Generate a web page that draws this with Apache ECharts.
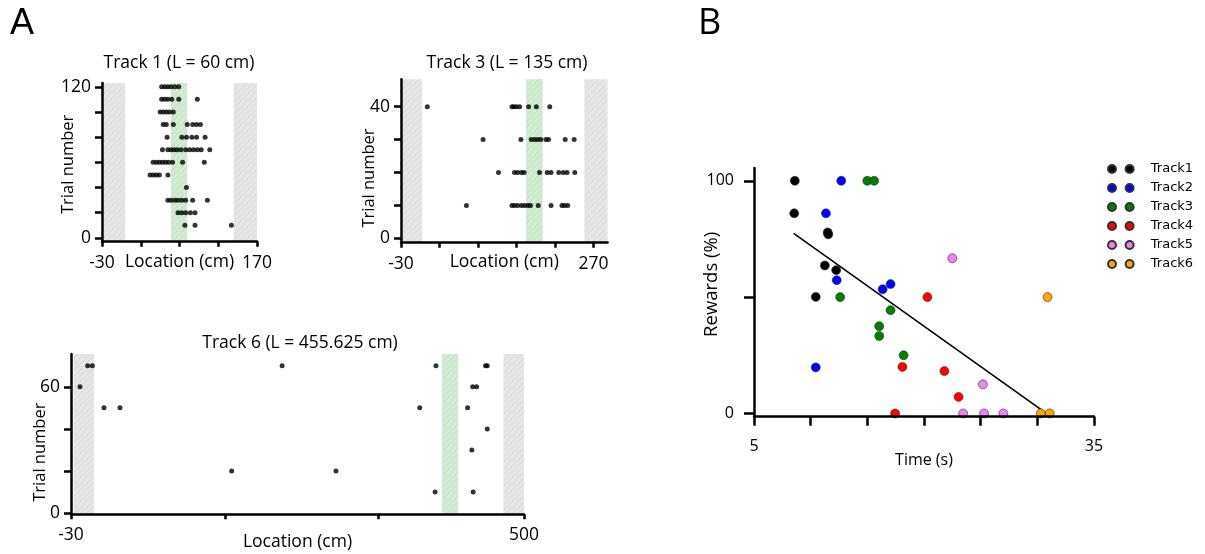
<!DOCTYPE html>
<html>
<head>
<meta charset="utf-8">
<script src="https://cdn.jsdelivr.net/npm/echarts@6/dist/echarts.min.js"></script>
<style>
  html, body { margin: 0; padding: 0; background: #fff; }
  #chart { width: 1205px; height: 554px; }
</style>
</head>
<body>
<div id="chart"></div>
<script>
// ---- panel A data: lick/stop locations per trial ----
const track1Trials = [120, 110, 100, 90, 80, 70, 60, 50, 40, 30, 20, 10];
const track1Locs = [
  [47, 51, 55, 59, 64, 69],
  [47, 51, 55, 60, 69, 93],
  [45, 49, 53, 57, 62],
  [49, 53, 62, 80, 87, 92, 97],
  [54, 73, 79, 86, 92, 103],
  [48, 55, 59, 63, 67, 72, 78, 83, 88, 93, 98, 109],
  [36, 40, 44, 48, 52, 56, 61, 74, 102],
  [32, 36, 40, 44, 55],
  [79],
  [55, 59, 64, 68, 73, 78, 87, 106],
  [68, 73, 78, 84, 90],
  [77, 90, 137]
];

const track3Trials = [40, 30, 20, 10];
const track3Locs = [
  [11, 143, 146, 150, 155, 169, 181, 202],
  [98, 157, 173, 178, 183, 188, 196, 200, 226, 240],
  [122, 147, 152, 158, 162, 186, 198, 204, 216, 223, 229, 241],
  [72, 143, 147, 152, 158, 163, 168, 172, 184, 204, 221, 225, 230]
];

const track6Locs = [-19.5, -10.5, -5, 8.6, 27.3, 158, 217, 280, 397, 378, 396, 455, 457, 440, 444.5, 434, 457, 439, 440.5];
const track6Trials = [60, 70, 70, 50, 50, 20, 70, 20, 70, 50, 10, 70, 70, 60, 60, 50, 40, 30, 10];

// zones [from, to] in cm
const track1Grey = [[-28, 0], [140, 170]];
const track1Reward = [59, 80];
const track3Grey = [[-27, 3], [256, 292]];
const track3Reward = [165, 191];
const track6Grey = [[-27, -3], [476, 500]];
const track6Reward = [404, 423];

// ---- panel B data: time vs rewards ----
const trackNames = ['Track1', 'Track2', 'Track3', 'Track4', 'Track5', 'Track6'];
const trackColors = ['#000000', '#0000ff', '#008000', '#ff0000', '#ee82ee', '#ffa500'];
const t1Time = [8.6, 8.55, 11.5, 11.55, 11.25, 12.25, 10.45];
const t1Reward = [100, 86, 77.8, 77, 63.6, 61.6, 50.1];
const t2Time = [12.7, 11.35, 12.3, 16.35, 17.05, 10.45];
const t2Reward = [100, 86, 57.3, 53.4, 55.6, 19.8];
const t3Time = [15.0, 15.6, 12.6, 17.05, 16.05, 16.05, 18.2];
const t3Reward = [100, 100, 50, 44.4, 37.5, 33.3, 25];
const t4Time = [20.3, 18.1, 21.8, 23.05, 17.45];
const t4Reward = [50, 20, 18.2, 7.1, 0];
const t5Time = [22.5, 25.2, 23.45, 25.3, 27.0];
const t5Reward = [66.7, 12.5, 0, 0, 0];
const t6Time = [30.9, 30.3, 31.1];
const t6Reward = [50, 0, 0];
const fitTime = [8.5, 30.8];
const fitReward = [77.4, 0];

const FONT = '"Open Sans", "DejaVu Sans", sans-serif';
const FS = 17.5;

function hatch(bg, line) {
  const c = document.createElement('canvas');
  c.width = 6; c.height = 6;
  const g = c.getContext('2d');
  g.fillStyle = bg; g.fillRect(0, 0, 6, 6);
  g.strokeStyle = line; g.lineWidth = 0.8;
  g.beginPath();
  g.moveTo(0, 6); g.lineTo(6, 0);
  g.moveTo(-1, 1); g.lineTo(1, -1);
  g.moveTo(5, 7); g.lineTo(7, 5);
  g.stroke();
  return { image: c, repeat: 'repeat' };
}
const greyFill = hatch('#e6e6e6', '#d2d2d2');
const greenFill = hatch('#d2ebd2', '#b8dcb8');

function rowsToPoints(trials, locs) {
  const pts = [];
  trials.forEach((t, i) => locs[i].forEach(x => pts.push([x, t])));
  return pts;
}

function zoneAreas(grey, reward) {
  const areas = grey.map(z => [{ xAxis: z[0], itemStyle: { color: greyFill } }, { xAxis: z[1] }]);
  areas.push([{ xAxis: reward[0], itemStyle: { color: greenFill } }, { xAxis: reward[1] }]);
  return areas;
}

function xAx(idx, min, max, ticks, labels, nameGap) {
  return {
    type: 'value', gridIndex: idx, min: min, max: max, z: 5,
    name: 'Location (cm)', nameLocation: 'middle', nameGap: nameGap, nameMoveOverlap: false,
    nameTextStyle: { fontSize: FS, fontFamily: FONT, color: '#000' },
    axisLine: { onZero: false, lineStyle: { color: '#000', width: 2.5 } },
    axisTick: { customValues: ticks, length: 5, lineStyle: { color: '#000', width: 2.5 } },
    axisLabel: { customValues: labels, margin: 12, fontSize: FS, fontFamily: FONT, color: '#000' },
    splitLine: { show: false }
  };
}
// shift > 0 moves the rotated name down the axis
function yAx(idx, min, max, ticks, labels, nameGap, shift) {
  return {
    type: 'value', gridIndex: idx, min: min, max: max, z: 5,
    name: 'Trial number', nameLocation: 'middle', nameGap: nameGap, nameMoveOverlap: false,
    nameTextStyle: { fontSize: 16.5, fontFamily: FONT, color: '#000', padding: [0, shift * 2, 0, 0] },
    axisLine: { onZero: false, lineStyle: { color: '#000', width: 2.5 } },
    axisTick: { customValues: ticks, length: 7, lineStyle: { color: '#000', width: 2.5 } },
    axisLabel: { customValues: labels, margin: 11, fontSize: FS, fontFamily: FONT, color: '#000' },
    splitLine: { show: false }
  };
}

function dots(idx, pts, grey, reward) {
  return {
    type: 'scatter', xAxisIndex: idx, yAxisIndex: idx,
    data: pts, symbolSize: 5, itemStyle: { color: '#000' },
    silent: true,
    markArea: { silent: true, data: zoneAreas(grey, reward) }
  };
}

const bTimes = [t1Time, t2Time, t3Time, t4Time, t5Time, t6Time];
const bRewards = [t1Reward, t2Reward, t3Reward, t4Reward, t5Reward, t6Reward];

const chart = echarts.init(document.getElementById('chart'));
const option = {
  animation: false,
  graphic: [
    { type: 'text', left: 10, top: 6, style: { text: 'A', font: '36px "Liberation Sans", Arial, sans-serif', fill: '#000' } },
    { type: 'text', left: 698, top: 6, style: { text: 'B', font: '36px "Open Sans", sans-serif', fill: '#000' } },
    { type: 'text', x: 179, y: 63, style: { text: 'Track 1 (L = 60 cm)', font: FS + 'px ' + FONT, fill: '#000', align: 'center', verticalAlign: 'middle' } },
    { type: 'text', x: 507, y: 63, style: { text: 'Track 3 (L = 135 cm)', font: FS + 'px ' + FONT, fill: '#000', align: 'center', verticalAlign: 'middle' } },
    { type: 'text', x: 300, y: 343, style: { text: 'Track 6 (L = 455.625 cm)', font: FS + 'px ' + FONT, fill: '#000', align: 'center', verticalAlign: 'middle' } }
  ],
  legend: {
    data: trackNames, orient: 'vertical', left: 1102, top: 157,
    icon: 'path://M0,4A4,4,0,1,1,8,4A4,4,0,1,1,0,4ZM17.6,4A4,4,0,1,1,25.6,4A4,4,0,1,1,17.6,4Z',
    itemWidth: 26, itemHeight: 8, itemGap: 5,
    textStyle: { fontSize: 13, lineHeight: 14, fontFamily: '"DejaVu Sans", sans-serif', color: '#000', padding: [0, 0, 0, 12] }
  },
  grid: [
    { left: 102, top: 83, width: 155, height: 158.7 },
    { left: 401, top: 79.3, width: 206.5, height: 163.4 },
    { left: 71, top: 354, width: 453, height: 160.3 },
    { left: 754, top: 168, width: 340, height: 248.7 }
  ],
  xAxis: [
    xAx(0, -30, 170, [-30, 20, 70, 120, 170], [-30, 170], 11),
    xAx(1, -30, 292, [-30, 30, 90, 150, 210, 270], [-30, 270], 10),
    xAx(2, -30, 500, [-30, 150, 330, 500], [-30, 500], 19),
    {
      type: 'value', gridIndex: 3, min: 5, max: 35, z: 5,
      name: 'Time (s)', nameLocation: 'middle', nameGap: 36, nameMoveOverlap: false,
      nameTextStyle: { fontSize: 16, fontFamily: FONT, color: '#000' },
      axisLine: { onZero: false, lineStyle: { color: '#000', width: 2.5 } },
      axisTick: { customValues: [5, 10, 15, 20, 25, 30, 35], length: 9, lineStyle: { color: '#000', width: 2.5 } },
      axisLabel: { customValues: [5, 35], margin: 22, fontSize: 16, fontFamily: FONT, color: '#000' },
      splitLine: { show: false }
    }
  ],
  yAxis: [
    yAx(0, -3, 123, [0, 20, 40, 60, 80, 100, 120], [0, 120], 25, 2),
    yAx(1, -1.3, 48.3, [0, 10, 20, 30, 40], [0, 40], 23, 17),
    yAx(2, -0.6, 75.6, [0, 20, 40, 60], [0, 60], 22, 18),
    {
      type: 'value', gridIndex: 3, min: -1.4, max: 105.5, z: 5,
      name: 'Rewards (%)', nameLocation: 'middle', nameGap: 33, nameMoveOverlap: false,
      nameTextStyle: { fontSize: 18.5, fontFamily: FONT, color: '#000', padding: [0, 0, 0, 16] },
      axisLine: { onZero: false, lineStyle: { color: '#000', width: 2.5 } },
      axisTick: { customValues: [0, 50, 100], length: 10, lineStyle: { color: '#000', width: 2.5 } },
      axisLabel: { customValues: [0, 100], margin: 20, fontSize: 16, fontFamily: FONT, color: '#000' },
      splitLine: { show: false }
    }
  ],
  series: [
    dots(0, rowsToPoints(track1Trials, track1Locs), track1Grey, track1Reward),
    dots(1, rowsToPoints(track3Trials, track3Locs), track3Grey, track3Reward),
    dots(2, track6Locs.map((x, i) => [x, track6Trials[i]]), track6Grey, track6Reward),
    {
      type: 'line', xAxisIndex: 3, yAxisIndex: 3, silent: true,
      data: fitTime.map((t, i) => [t, fitReward[i]]),
      symbol: 'none', lineStyle: { color: '#000', width: 1.6 }, z: 1
    }
  ].concat(trackNames.map((n, k) => ({
    name: n, type: 'scatter', xAxisIndex: 3, yAxisIndex: 3,
    data: bTimes[k].map((t, i) => [t, bRewards[k][i]]),
    symbolSize: 9, z: 3,
    itemStyle: { color: trackColors[k], borderColor: '#333', borderWidth: 0.6, opacity: 1 }
  })))
};
chart.setOption(option);
</script>
</body>
</html>
